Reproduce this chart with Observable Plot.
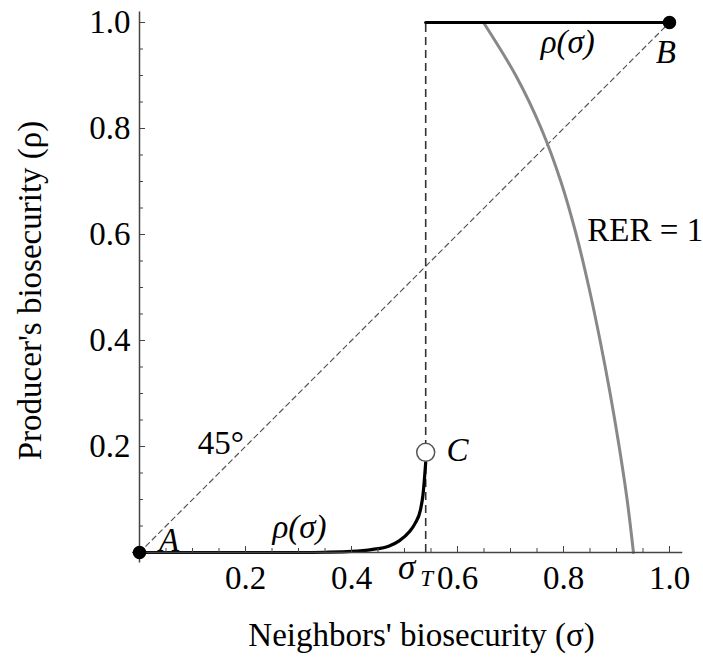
<!DOCTYPE html>
<html><head><meta charset="utf-8">
<script src="https://cdn.jsdelivr.net/npm/d3@7"></script>
<script src="https://cdn.jsdelivr.net/npm/@observablehq/plot@0.6"></script>
<style>
body{margin:0;background:#fff}
#chart svg, #chart svg text { font-family: "Liberation Serif", "Times New Roman", serif !important; }
</style>
</head><body><div id="chart"></div>
<script>
// threshold
const sigmaT = 0.54;
// lower branch of rho(sigma)
const lowSigma = [0, 0.1, 0.2, 0.3, 0.35, 0.4, 0.44, 0.47, 0.49, 0.51, 0.52, 0.53, 0.535, 0.54];
const lowRho   = [0, 0, 0, 0, 0.0005, 0.002, 0.006, 0.012, 0.022, 0.04, 0.055, 0.08, 0.11, 0.17];
// upper branch of rho(sigma)
const highSigma = [0.54, 1.0];
const highRho   = [1.0, 1.0];
// RER = 1 curve
const rerRho   = [1.0, 0.9, 0.8, 0.7, 0.6, 0.5, 0.4, 0.3, 0.2, 0.1, 0.0];
const rerSigma = [0.649, 0.71, 0.758, 0.795, 0.824, 0.848, 0.869, 0.888, 0.905, 0.92, 0.932];
// 45 degree line
const diagSigma = [0, 1];
const diagRho   = [0, 1];
// points
const filledSigma = [0, 1];
const filledRho   = [0, 1];
const openSigma = [0.54];
const openRho   = [0.189];
// italic annotations
const noteText  = ["ρ(σ)", "ρ(σ)", "A", "B", "C"];
const noteSigma = [0.808, 0.302, 0.056, 0.993, 0.6];
const noteRho   = [0.963, 0.047, 0.022, 0.944, 0.192];
// upright annotations
const plainText  = ["45°", "RER = 1"];
const plainSigma = [0.11, 0.845];
const plainRho   = [0.205, 0.608];
// ticks
const majorTicks = [0.2, 0.4, 0.6, 0.8, 1.0];
const minorTicks = [0.05, 0.1, 0.15, 0.25, 0.3, 0.35, 0.45, 0.5, 0.55, 0.65, 0.7, 0.75, 0.85, 0.9, 0.95];
const xLabel = "Neighbors' biosecurity (σ)";
const yLabel = "Producer's biosecurity (ρ)";

const zip = (xs, ys) => xs.map((x, i) => ({sigma: x, rho: ys[i]}));
const font = "Liberation Serif";
const axisColor = "#444";
const fs = 33;

const chart = Plot.plot({
  width: 703, height: 657,
  marginLeft: 139, marginRight: 34, marginTop: 22, marginBottom: 105,
  x: {domain: [0, 1], axis: null},
  y: {domain: [0, 1], axis: null},
  style: {fontFamily: font, fontSize: "33px", color: "#000", background: "#fff", overflow: "visible"},
  marks: [
    // 45-degree line
    Plot.line(zip(diagSigma, diagRho), {x: "sigma", y: "rho", stroke: "#555", strokeWidth: 1.2, strokeDasharray: "5,4"}),
    // threshold
    Plot.ruleX([sigmaT], {y1: 0, y2: 1, stroke: "#333", strokeWidth: 1.6, strokeDasharray: "8,5"}),
    // RER = 1
    Plot.line(zip(rerSigma, rerRho), {x: "sigma", y: "rho", curve: "catmull-rom", stroke: "#888", strokeWidth: 3}),
    // rho(sigma)
    Plot.line(zip(lowSigma, lowRho), {x: "sigma", y: "rho", curve: "monotone-x", stroke: "#000", strokeWidth: 3.2}),
    Plot.line(zip(highSigma, highRho), {x: "sigma", y: "rho", stroke: "#000", strokeWidth: 3.2}),
    // axis lines
    Plot.ruleY([0], {x1: -0.013, x2: 1.025, stroke: axisColor, strokeWidth: 1.5}),
    Plot.ruleX([0], {y1: -0.02, y2: 1.02, stroke: axisColor, strokeWidth: 1.5}),
    // ticks
    Plot.axisX(minorTicks, {tickSize: -4, tickFormat: () => "", label: null, stroke: axisColor}),
    Plot.axisX(majorTicks, {tickSize: -6, tickFormat: () => "", label: null, stroke: axisColor}),
    Plot.axisX(majorTicks, {tickSize: 0, tickPadding: 13, tickFormat: d => d.toFixed(1), label: null, fontSize: fs, fontFamily: font, fill: "#000"}),
    Plot.axisY(minorTicks, {tickSize: -4, tickFormat: () => "", label: null, stroke: axisColor}),
    Plot.axisY(majorTicks, {tickSize: -6, tickFormat: () => "", label: null, stroke: axisColor}),
    Plot.axisY(majorTicks, {tickSize: 0, tickPadding: 9, tickFormat: d => d.toFixed(1), label: null, fontSize: fs, fontFamily: font, fill: "#000"}),
    // sigma_T tick label
    Plot.text([sigmaT], {x: d => d, frameAnchor: "bottom", lineAnchor: "middle", textAnchor: "middle", dy: 15, dx: -19, text: () => "σ", fontStyle: "italic", fontSize: fs + 2, fontFamily: font}),
    Plot.text([sigmaT], {x: d => d, frameAnchor: "bottom", lineAnchor: "middle", textAnchor: "middle", dy: 26, dx: 1, text: () => "T", fontStyle: "italic", fontSize: 23, fontFamily: font}),
    // points
    Plot.dot(zip(filledSigma, filledRho), {x: "sigma", y: "rho", r: 6, fill: "#000", stroke: "#000"}),
    Plot.dot(zip(openSigma, openRho), {x: "sigma", y: "rho", r: 9, fill: "#fff", stroke: "#555", strokeWidth: 1.5}),
    // annotations
    Plot.text(noteText, {x: (d, i) => noteSigma[i], y: (d, i) => noteRho[i], text: d => d, fontStyle: "italic", fontSize: fs, fontFamily: font}),
    Plot.text(plainText, {x: (d, i) => plainSigma[i], y: (d, i) => plainRho[i], text: d => d, textAnchor: "start", fontSize: fs, fontFamily: font}),
    // axis titles
    Plot.text([xLabel], {frameAnchor: "bottom", lineAnchor: "middle", textAnchor: "middle", dy: 83, dx: 17, text: d => d, fontSize: fs, fontFamily: font}),
    Plot.text([yLabel], {frameAnchor: "left", lineAnchor: "middle", textAnchor: "middle", rotate: -90, dx: -109, dy: 3, text: d => d, fontSize: fs, fontFamily: font})
  ]
});
document.getElementById("chart").append(chart);
</script>
</body></html>
